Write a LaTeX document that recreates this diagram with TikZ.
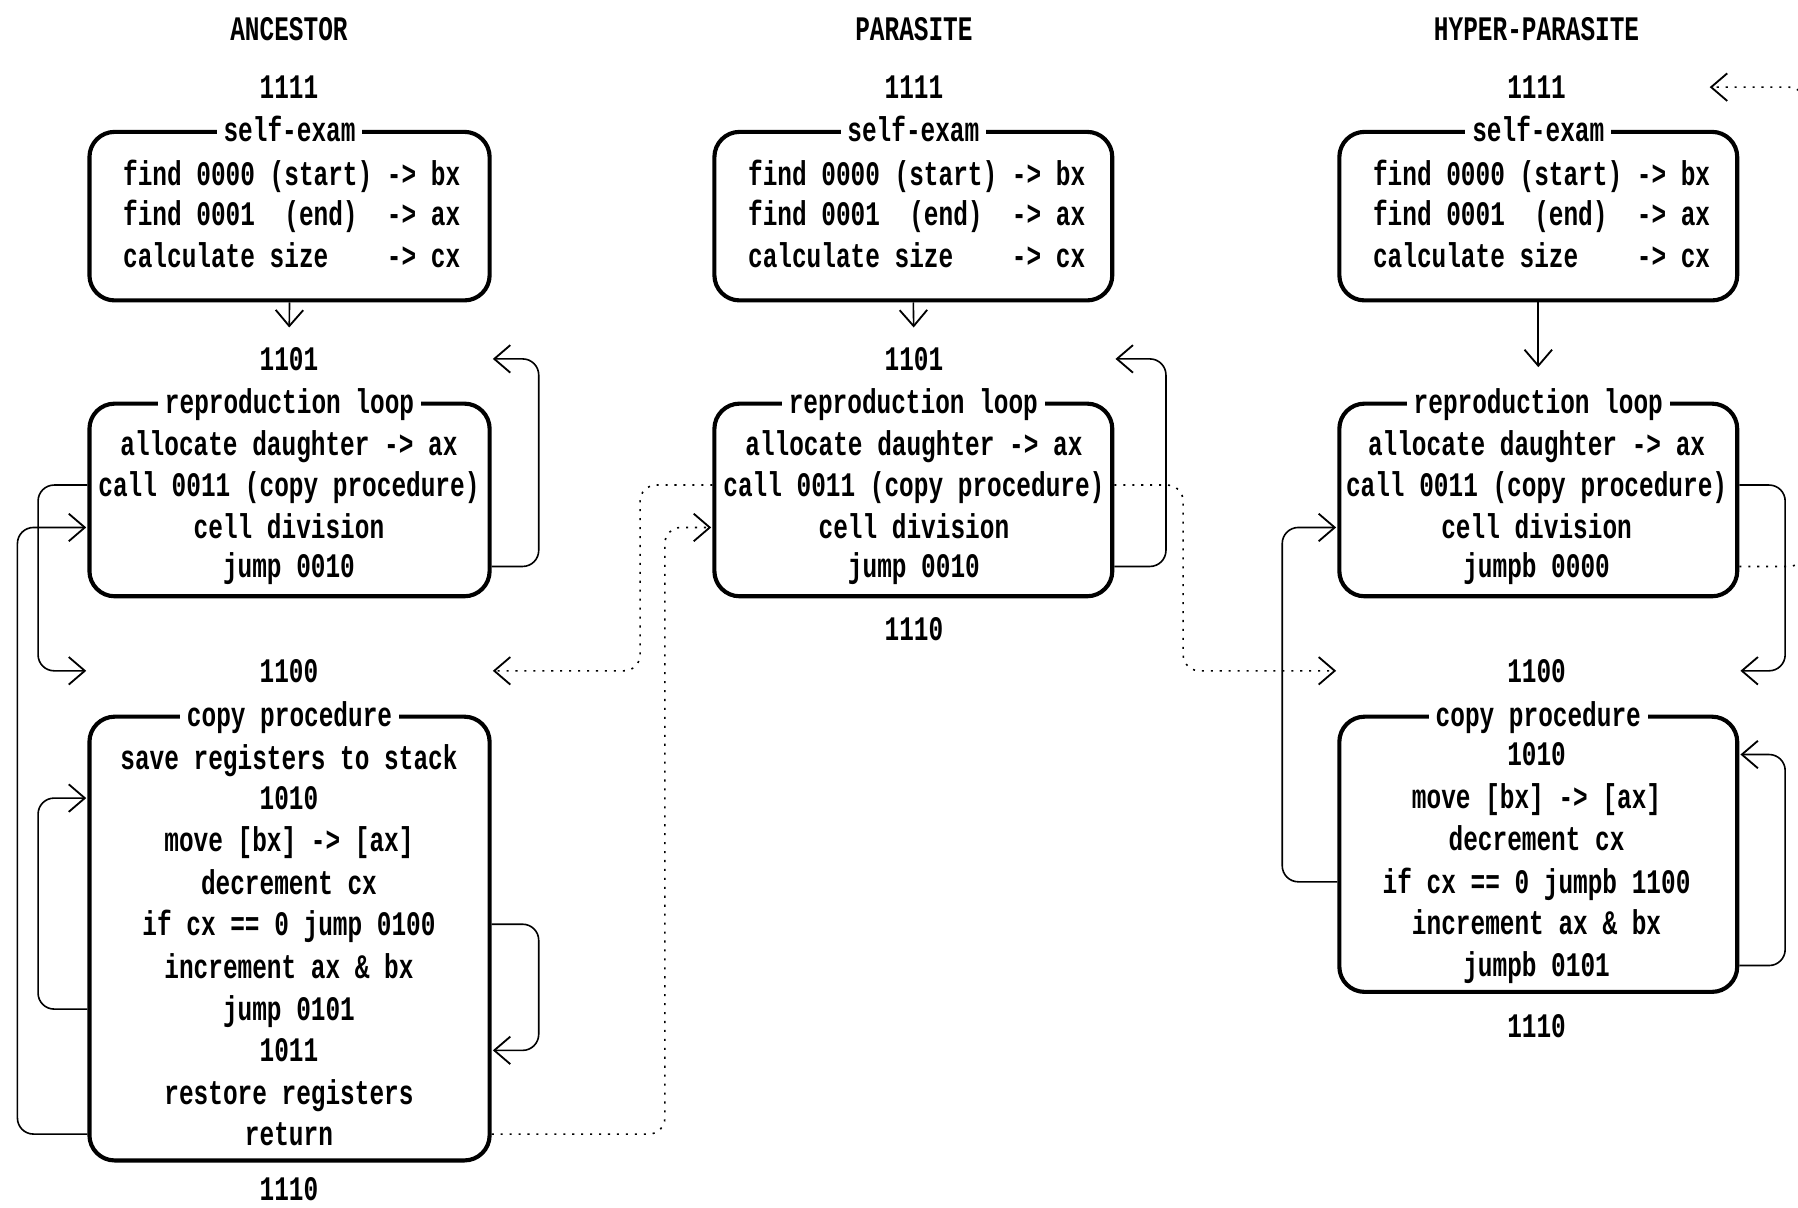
\documentclass[tikz,border=0pt]{standalone}
\usepackage{fontspec}
\newfontfamily\bitfont{Liberation Mono}[FakeStretch=0.71]
\usetikzlibrary{arrows.meta,fit}
\begin{document}
\begin{tikzpicture}[x=0.5pt,y=-0.5pt,
  txt/.style={font=\bitfont\bfseries\fontsize{15pt}{17pt}\selectfont,
    inner sep=0pt, text height=10pt, text depth=0pt},
  ttl/.style={txt, fill=white, inner xsep=3pt, inner ysep=2pt},
  blk/.style={draw, line width=1.8pt, rounded corners=11pt, inner sep=0pt},
  con/.style={line width=0.7pt, rounded corners=7pt, shorten >=0.5pt,
    -{Straight Barb[length=7pt,width=12pt,line width=0.8pt]}},
  dotcon/.style={con, dash pattern=on 0.9pt off 3pt},
]
\useasboundingbox (0,0) rectangle (1568,1053);
\clip (0,0) rectangle (1568,1053);
\fill[white] (0,0) rectangle (1568,1053);

% ---------- column headings ----------
\node[txt] (aHead) at (252,25) {ANCESTOR};
\node[txt] (pHead) at (797,25) {PARASITE};
\node[txt] (hHead) at (1340,25) {HYPER-PARASITE};

% ---------- ancestor ----------
\node[txt] (a1111) at (252,76) {1111};
\node[blk, fit={(78,115) (427,262)}] (aSelf) {};
\node[ttl] (aSelfT) at (aSelf.north) {self-exam};
\node[txt, anchor=west] (aS1) at (107,152) {find 0000 (start) -> bx};
\node[txt, anchor=west] (aS2) at (107,187) {find 0001~~(end)~~-> ax};
\node[txt, anchor=west] (aS3) at (107,223) {calculate size~~~~-> cx};

\node[txt] (a1101) at (252,313) {1101};
\node[blk, fit={(78,352) (427,520)}] (aRep) {};
\node[ttl] (aRepT) at (aRep.north) {reproduction loop};
\node[txt] (aR1) at (252,387) {allocate daughter -> ax};
\node[txt] (aR2) at (252,423) {call 0011 (copy procedure)};
\node[txt] (aR3) at (252,460) {cell division};
\node[txt] (aR4) at (252,494) {jump 0010};

\node[txt] (a1100) at (252,585) {1100};
\node[blk, fit={(78,625) (427,1012)}] (aCopy) {};
\node[ttl] (aCopyT) at (aCopy.north) {copy procedure};
\node[txt] (aC1) at (252,661) {save registers to stack};
\node[txt] (aC2) at (252,696) {1010};
\node[txt] (aC3) at (252,733) {move [bx] -> [ax]};
\node[txt] (aC4) at (252,770) {decrement cx};
\node[txt] (aC5) at (252,806) {if cx == 0 jump 0100};
\node[txt] (aC6) at (252,843) {increment ax \& bx};
\node[txt] (aC7) at (252,880) {jump 0101};
\node[txt] (aC8) at (252,916) {1011};
\node[txt] (aC9) at (252,953) {restore registers};
\node[txt] (aC10) at (252,989) {return};
\node[txt] (a1110) at (252,1037) {1110};

% ---------- parasite ----------
\node[txt] (p1111) at (797,76) {1111};
\node[blk, fit={(623,115) (970,262)}] (pSelf) {};
\node[ttl] (pSelfT) at (pSelf.north) {self-exam};
\node[txt, anchor=west] (pS1) at (652,152) {find 0000 (start) -> bx};
\node[txt, anchor=west] (pS2) at (652,187) {find 0001~~(end)~~-> ax};
\node[txt, anchor=west] (pS3) at (652,223) {calculate size~~~~-> cx};

\node[txt] (p1101) at (797,313) {1101};
\node[blk, fit={(623,352) (970,520)}] (pRep) {};
\node[ttl] (pRepT) at (pRep.north) {reproduction loop};
\node[txt] (pR1) at (797,387) {allocate daughter -> ax};
\node[txt] (pR2) at (797,423) {call 0011 (copy procedure)};
\node[txt] (pR3) at (797,460) {cell division};
\node[txt] (pR4) at (797,494) {jump 0010};
\node[txt] (p1110) at (797,549) {1110};

% ---------- hyper-parasite ----------
\node[txt] (h1111) at (1340,76) {1111};
\node[blk, fit={(1168,115) (1515,262)}] (hSelf) {};
\node[ttl] (hSelfT) at (hSelf.north) {self-exam};
\node[txt, anchor=west] (hS1) at (1197,152) {find 0000 (start) -> bx};
\node[txt, anchor=west] (hS2) at (1197,187) {find 0001~~(end)~~-> ax};
\node[txt, anchor=west] (hS3) at (1197,223) {calculate size~~~~-> cx};

\node[blk, fit={(1168,352) (1515,520)}] (hRep) {};
\node[ttl] (hRepT) at (hRep.north) {reproduction loop};
\node[txt] (hR1) at (1340,387) {allocate daughter -> ax};
\node[txt] (hR2) at (1340,423) {call 0011 (copy procedure)};
\node[txt] (hR3) at (1340,460) {cell division};
\node[txt] (hR4) at (1340,494) {jumpb 0000};

\node[txt] (h1100) at (1340,585) {1100};
\node[blk, fit={(1168,625) (1515,865)}] (hCopy) {};
\node[ttl] (hCopyT) at (hCopy.north) {copy procedure};
\node[txt] (hC1) at (1340,658) {1010};
\node[txt] (hC2) at (1340,695) {move [bx] -> [ax]};
\node[txt] (hC3) at (1340,732) {decrement cx};
\node[txt] (hC4) at (1340,769) {if cx == 0 jumpb 1100};
\node[txt] (hC5) at (1340,805) {increment ax \& bx};
\node[txt] (hC6) at (1340,842) {jumpb 0101};
\node[txt] (h1110) at (1340,895) {1110};

\coordinate (hWrap) at (1574,300);
\coordinate (hBack) at (1490,76);

% ---------- ancestor connectors ----------
\draw[con, shorten >=8.5pt] (aSelf.south) -- (a1101.north);
\draw[con] (aRep.east |- aR4) -- ++(41,0) |- (aRep.east |- a1101);
\draw[con] (aRep.west |- aR2) -- ++(-43,0) |- (aRep.west |- a1100);
\draw[con] (aCopy.west |- aC10) -- ++(-61,0) |- (aRep.west |- aR3);
\draw[con] (aCopy.west |- aC7) -- ++(-43,0) |- (aCopy.west |- aC2);
\draw[con] (aCopy.east |- aC5) -- ++(41,0) |- (aCopy.east |- aC8);

% ---------- parasite connectors ----------
\draw[con, shorten >=8.5pt] (pSelf.south) -- (p1101.north);
\draw[con] (pRep.east |- pR4) -- ++(45,0) |- (pRep.east |- p1101);
\draw[dotcon] (pRep.west |- pR2) -- ++(-63,0) |- (aRep.east |- a1100);
\draw[dotcon] (aCopy.east |- aC10) -- ++(151,0) |- (pRep.west |- pR3);
\draw[dotcon] (pRep.east |- pR2) -- ++(60,0) |- (hRep.west |- h1100);

% ---------- hyper-parasite connectors ----------
\draw[con, shorten >=15pt] (hSelf.south) -- (hSelf.south |- hRep.north);
\draw[con] (hRep.east |- hR2) -- ++(40,0) |- (hRep.east |- h1100);
\draw[dotcon] (hRep.east |- hR4) -| (hWrap |- hBack) -- (hBack);
\draw[con] (hCopy.west |- hC4) -- ++(-48,0) |- (hRep.west |- hR3);
\draw[con] (hCopy.east |- hC6) -- ++(40,0) |- (hCopy.east |- hC1);
\end{tikzpicture}
\end{document}
